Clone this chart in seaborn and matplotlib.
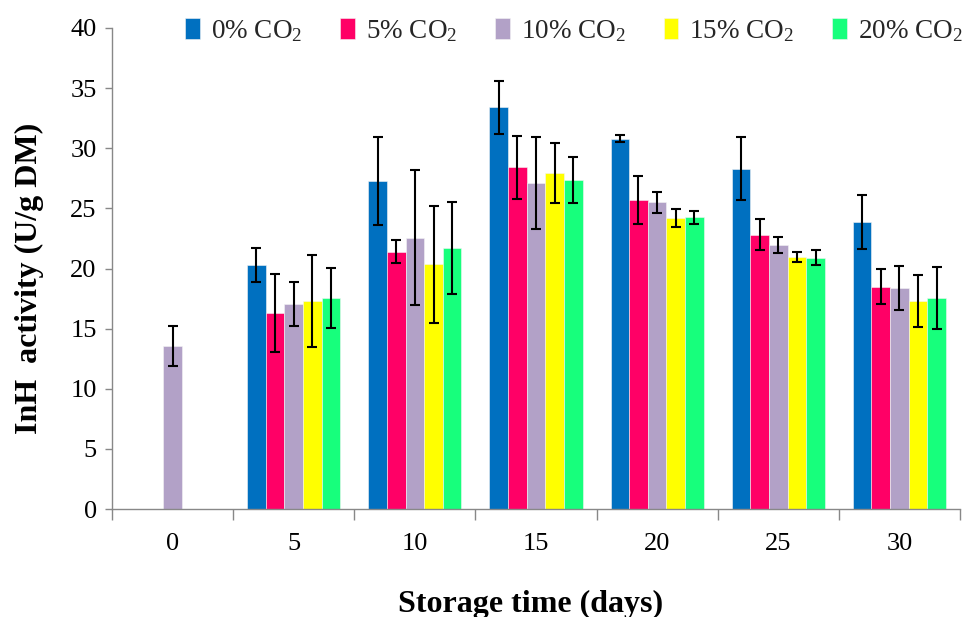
import numpy as np
import pandas as pd
import matplotlib
matplotlib.use("Agg")
import matplotlib.pyplot as plt
import seaborn as sns
from matplotlib.container import BarContainer

# ---- data ----
days = ["0", "5", "10", "15", "20", "25", "30"]
levels = ["0% CO$_2$", "5% CO$_2$", "10% CO$_2$", "15% CO$_2$", "20% CO$_2$"]
nan = np.nan
mean_0 = [nan, 20.3, 27.3, 33.4, 30.8, 28.3, 23.9]
mean_5 = [nan, 16.3, 21.4, 28.4, 25.7, 22.8, 18.5]
mean_10 = [13.55, 17.05, 22.55, 27.1, 25.5, 21.95, 18.4]
mean_15 = [nan, 17.3, 20.35, 27.95, 24.2, 20.95, 17.3]
mean_20 = [nan, 17.55, 21.7, 27.35, 24.25, 20.9, 17.55]
err_0 = [nan, 1.4, 3.65, 2.2, 0.28, 2.6, 2.25]
err_5 = [nan, 3.25, 0.95, 2.6, 2.0, 1.28, 1.42]
err_10 = [1.65, 1.8, 5.6, 3.8, 0.86, 0.64, 1.83]
err_15 = [nan, 3.8, 4.85, 2.5, 0.78, 0.42, 2.18]
err_20 = [nan, 2.5, 3.85, 1.9, 0.53, 0.63, 2.55]
colors = ["#0070C0", "#FF0066", "#B2A1C7", "#FFFF00", "#17FF7C"]

means = [mean_0, mean_5, mean_10, mean_15, mean_20]
errs = [err_0, err_5, err_10, err_15, err_20]

rows = []
for lev, m in zip(levels, means):
    for d, v in zip(days, m):
        rows.append({"day": d, "level": lev, "value": v})
df = pd.DataFrame(rows)

sns.set_theme(style="white")
plt.rcParams["font.family"] = ["Liberation Serif", "DejaVu Serif"]
plt.rcParams["mathtext.fontset"] = "custom"
plt.rcParams["mathtext.rm"] = "Liberation Serif"
plt.rcParams["mathtext.it"] = "Liberation Serif:italic"
plt.rcParams["mathtext.bf"] = "Liberation Serif:bold"

fig = plt.figure(figsize=(9.77, 6.17), dpi=100)
ax = fig.add_axes([112 / 977, 1 - 509 / 617, 848 / 977, 481 / 617])

sns.barplot(data=df, x="day", y="value", hue="level", order=days,
            hue_order=levels, palette=colors, errorbar=None, width=0.77,
            saturation=1, edgecolor="#f4f4f4", linewidth=0.4, ax=ax)

# error bars
bar_conts = [c for c in ax.containers if isinstance(c, BarContainer)]
for li, cont in enumerate(bar_conts):
    for p in cont.patches:
        if p is None:
            continue
        h = p.get_height()
        if h is None or np.isnan(h) or h == 0:
            continue
        xc = p.get_x() + p.get_width() / 2
        di = int(round(xc))
        e = errs[li][di]
        if np.isnan(e):
            continue
        ax.errorbar(xc, h, yerr=e, fmt="none", ecolor="black",
                    elinewidth=1.5, capsize=3.8, capthick=1.5, zorder=5)

ax.set_ylim(0, 40)
ax.set_xlim(-0.5, len(days) - 0.5)
ax.set_yticks(range(0, 41, 5))
ax.tick_params(axis="y", labelsize=19, length=5, width=1, color="#888888",
               left=True, direction="out", pad=6, labelcolor="black")
# x: major ticks at boundaries, labels at centers
ax.set_xticks(np.arange(-0.5, len(days), 1.0))
ax.set_xticklabels([""] * (len(days) + 1))
ax.set_xticks(np.arange(len(days)), minor=True)
ax.set_xticklabels(days, minor=True)
ax.tick_params(axis="x", which="major", length=8, width=1, color="#888888",
               bottom=True, direction="out")
ax.tick_params(axis="x", which="minor", length=0, labelsize=19, pad=17,
               labelcolor="black")

for s in ["top", "right"]:
    ax.spines[s].set_visible(False)
for s in ["left", "bottom"]:
    ax.spines[s].set_color("#888888")
    ax.spines[s].set_linewidth(1)

ax.set_xlabel("Storage time (days)", fontsize=23, fontweight="bold",
              color="black")
ax.xaxis.set_label_coords(0.493, -0.168)
ax.xaxis.label.set_va("top")
ax.set_ylabel("InH  activity (U/g DM)", fontsize=23, fontweight="bold",
              color="black")
ax.yaxis.set_label_coords(-0.097, 0.48)
ax.yaxis.label.set_va("center")

handles, labels = ax.get_legend_handles_labels()
ax.legend_.remove()
fig.legend(handles, levels, loc="center left",
           bbox_to_anchor=(185 / 977, 1 - 31 / 617), ncol=5, frameon=False,
           fontsize=19.5, handlelength=0.55, handleheight=0.8,
           handletextpad=0.4, columnspacing=1.4, borderaxespad=0,
           borderpad=0)

fig.savefig("out.png", dpi=100)
